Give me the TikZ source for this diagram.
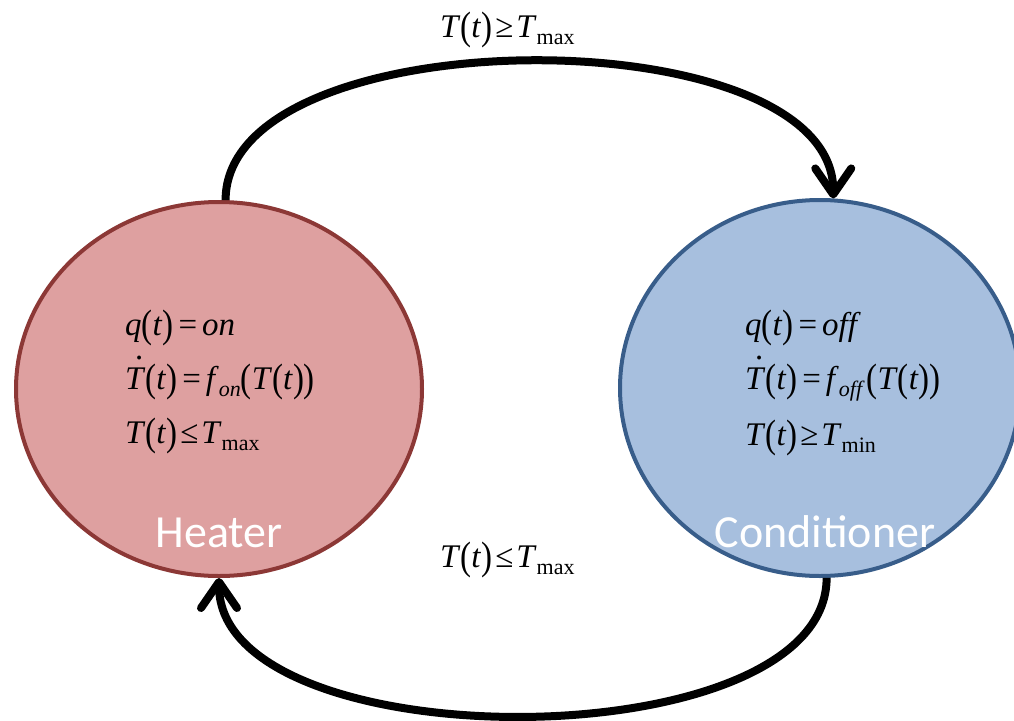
\documentclass[tikz,border=0pt]{standalone}
\usepackage{fontspec}
\usepackage{graphicx}
\setmainfont{Liberation Serif}
\newfontfamily\labelfont{Carlito}
\usetikzlibrary{shapes.geometric,arrows.meta}
\definecolor{heatfill}{HTML}{DEA0A0}
\definecolor{heatdraw}{HTML}{8C3836}
\definecolor{condfill}{HTML}{A7BFDE}
\definecolor{conddraw}{HTML}{385D8A}
\newcommand\mv[1]{\textit{#1}}
\newcommand\lp{\raisebox{-0.07em}{\scalebox{1}[1.2]{(}}}
\newcommand\rp{\raisebox{-0.07em}{\scalebox{1}[1.2]{)}}}
\newcommand\sub[1]{\raisebox{-0.22em}{\fontsize{22}{22}\selectfont #1}}
\newcommand\Td{\makebox[0pt][l]{\kern0.32em\smash{\raisebox{0.88em}{\textit{.}}}}\textit{T}}
\newcommand\eqs{\kern5pt=\kern5pt}
\newcommand\les{\kern3pt≤\kern3pt}
\newcommand\ges{\kern3pt≥\kern3pt}
\begin{document}
\begin{tikzpicture}[x=1pt,y=-1pt,
  state/.style={ellipse,draw,line width=4pt,inner sep=0pt},
  conn/.style={line width=8pt,-{Straight Barb[length=26pt,width=36pt,round]}},
  formula/.style={inner sep=0pt,anchor=base west,font=\fontsize{33}{33}\selectfont},
  title/.style={inner sep=0pt,anchor=base,text=white,font=\labelfont\fontsize{46}{46}\selectfont}]
\useasboundingbox (0,0) rectangle (1014,720);
\clip (0,0) rectangle (1014,720);
\node[state,fill=heatfill,draw=heatdraw,minimum width=406pt,minimum height=374pt] (heater) at (219,389) {};
\node[state,fill=condfill,draw=conddraw,minimum width=400pt,minimum height=376pt] (cond) at (820,388) {};
\draw[conn] (heater.88) .. controls +(0,-184) and +(0,-184) .. (cond.86);
\draw[conn] (cond.272) .. controls +(0,184) and +(0,184) .. (heater.270);
\node[formula] (h1) at (125,335) {\mv{q}\lp\mv{t}\rp\eqs\mv{on}};
\node[formula] (h2) at (125,389) {\Td\lp\mv{t}\rp\eqs\mv{f}\sub{\mv{on}}\lp\mv{T}\lp\mv{t}\rp\rp};
\node[formula] (h3) at (125,443) {\mv{T}\lp\mv{t}\rp\les\mv{T}\sub{max}};
\node[formula] (c1) at (745,335) {\mv{q}\lp\mv{t}\rp\eqs\mv{off}};
\node[formula] (c2) at (745,389) {\Td\lp\mv{t}\rp\eqs\mv{f}\sub{\mv{off}}\kern2pt\lp\mv{T}\lp\mv{t}\rp\rp};
\node[formula] (c3) at (745,445) {\mv{T}\lp\mv{t}\rp\ges\mv{T}\sub{min}};
\node[formula] (top) at (440,37) {\mv{T}\lp\mv{t}\rp\ges\mv{T}\sub{max}};
\node[formula] (bot) at (440,567) {\mv{T}\lp\mv{t}\rp\les\mv{T}\sub{max}};
\node[title] (hl) at (219,547) {Heater};
\node[title] (cl) at (825,547) {Conditioner};
\end{tikzpicture}
\end{document}
